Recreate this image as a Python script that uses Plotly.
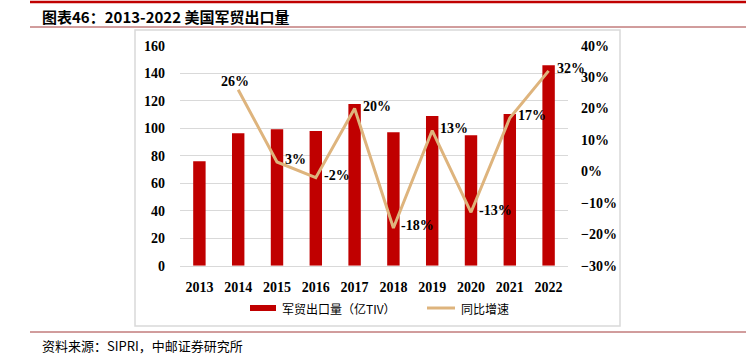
import plotly.graph_objects as go

years = ["2013", "2014", "2015", "2016", "2017", "2018", "2019", "2020", "2021", "2022"]
exports = [76, 96.3, 99.2, 98, 117.6, 97, 108.9, 94.8, 110.3, 145.7]
growth = [None, 26, 3, -2, 20, -18, 13, -13, 17, 32]
growth_labels = ["", "26%", "3%", "-2%", "20%", "-18%", "13%", "-13%", "17%", "32%"]

W, H = 746, 354
def px(x): return x / W
def py(y): return 1 - y / H

serif = "Liberation Serif"
cjk = "Noto Sans CJK SC"

fig = go.Figure()
fig.add_trace(go.Bar(
    x=years, y=exports, name="军贸出口量（亿TIV）",
    marker=dict(color="#C00000", line=dict(width=0)),
    yaxis="y", showlegend=False,
))
fig.add_trace(go.Scatter(
    x=years, y=growth, name="同比增速", mode="lines",
    line=dict(color="#DEB47D", width=3),
    cliponaxis=False, yaxis="y2", showlegend=False,
))

shapes = [
    dict(type="rect", xref="paper", yref="paper", x0=px(135), x1=px(620), y0=py(326), y1=py(30),
         line=dict(color="#D9D9D9", width=1.5), fillcolor="rgba(0,0,0,0)", layer="below"),
    dict(type="line", xref="paper", yref="paper", x0=px(30), x1=1, y0=py(2), y1=py(2),
         line=dict(color="#C00000", width=2.5)),
    dict(type="line", xref="paper", yref="paper", x0=px(30), x1=1, y0=py(27), y1=py(27),
         line=dict(color="#A33B3B", width=1)),
    dict(type="line", xref="paper", yref="paper", x0=px(30), x1=1, y0=py(332), y1=py(332),
         line=dict(color="#A33B3B", width=1)),
    # custom legend
    dict(type="rect", xref="paper", yref="paper", x0=px(250), x1=px(276), y0=py(311), y1=py(305),
         line=dict(width=0), fillcolor="#C00000"),
    dict(type="line", xref="paper", yref="paper", x0=px(427), x1=px(455), y0=py(308), y1=py(308),
         line=dict(color="#DEB47D", width=3)),
]

annotations = [
    dict(text="<b>图表46：2013-2022 美国军贸出口量</b>", xref="paper", yref="paper",
         x=px(40), y=py(16), xanchor="left", yanchor="middle", showarrow=False,
         font=dict(family=cjk, size=15, color="#000000")),
    dict(text="资料来源：SIPRI，中邮证券研究所", xref="paper", yref="paper",
         x=px(40), y=py(345), xanchor="left", yanchor="middle", showarrow=False,
         font=dict(family=cjk, size=13, color="#000000")),
    dict(text="军贸出口量（亿TIV）", xref="paper", yref="paper",
         x=px(280), y=py(308), xanchor="left", yanchor="middle", showarrow=False,
         font=dict(family=cjk, size=12, color="#000000")),
    dict(text="同比增速", xref="paper", yref="paper",
         x=px(459), y=py(308), xanchor="left", yanchor="middle", showarrow=False,
         font=dict(family=cjk, size=12, color="#000000")),
]

for i, (yr, g, lab) in enumerate(zip(years, growth, growth_labels)):
    if g is None:
        continue
    if yr == "2014":
        annotations.append(dict(text="<b>" + lab + "</b>", x=i, y=g, xref="x", yref="y2",
                                xanchor="center", yanchor="bottom", xshift=-3, yshift=-1,
                                showarrow=False,
                                font=dict(family=serif, size=14, color="#000000")))
    else:
        annotations.append(dict(text="<b>" + lab + "</b>", x=i, y=g, xref="x", yref="y2",
                                xanchor="left", yanchor="middle", xshift=6, yshift=2,
                                showarrow=False,
                                font=dict(family=serif, size=14, color="#000000")))

tickfont = dict(family=serif, size=14, color="#000000")
fig.update_layout(
    width=W, height=H,
    margin=dict(l=0, r=0, t=0, b=0),
    paper_bgcolor="white", plot_bgcolor="white",
    bargap=0.68,
    showlegend=False,
    xaxis=dict(type="category", domain=[px(180), px(568)], range=[-0.5, len(years) - 0.5],
               autorange=False, showgrid=False, showline=True,
               automargin=False, linecolor="#D9D9D9", ticks="", tickfont=tickfont,
               tickprefix="<b>", ticksuffix="</b>", ticklabelstandoff=8),
    yaxis=dict(domain=[py(265.7), py(45.7)], range=[0, 160], dtick=20, automargin=False,
               showgrid=True, gridcolor="#D9D9D9", gridwidth=1, zeroline=False,
               tickfont=tickfont, tickformat="d", tickprefix="<b>", ticksuffix="</b>",
               ticklabelstandoff=14),
    yaxis2=dict(overlaying="y", side="right", range=[-30, 40], dtick=10, automargin=False,
                showgrid=False, zeroline=False, tickprefix="<b>", ticksuffix="%</b>",
                tickfont=tickfont, ticklabelstandoff=12),
    shapes=shapes, annotations=annotations,
    font=dict(family=serif),
)

fig.write_html("out.html")
